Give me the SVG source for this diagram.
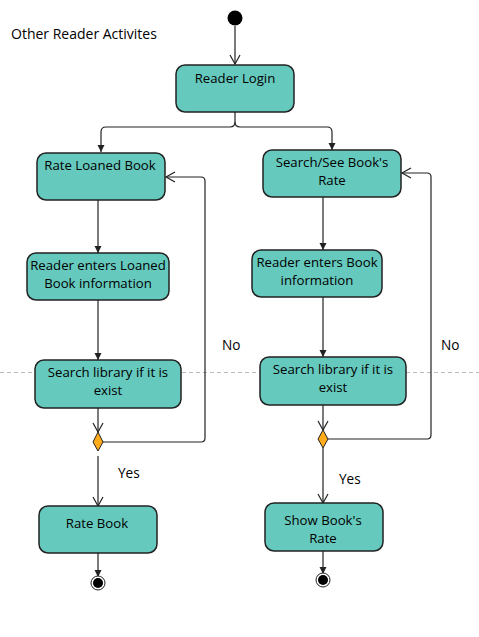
<svg xmlns="http://www.w3.org/2000/svg" width="479" height="637" viewBox="0 0 479 637">
<defs>
<style>
.act{fill:#66c9bd;stroke:#222;stroke-width:1.5}
.t{font-family:"Open Sans","Noto Sans",sans-serif;font-size:13.2px;fill:#000;text-anchor:middle}
.l{font-family:"Open Sans","Noto Sans",sans-serif;font-size:13.6px;fill:#000}
.c{fill:none;stroke:#222;stroke-width:1.2}
.dec{fill:#ffab1c;stroke:#222;stroke-width:1}
</style>
<marker id="open" markerWidth="12" markerHeight="12" refX="10" refY="6" orient="auto" markerUnits="userSpaceOnUse">
<path d="M1,1 L10,6 L1,11" fill="none" stroke="#222" stroke-width="1.2"/>
</marker>
<marker id="fill" markerWidth="8" markerHeight="8" refX="7" refY="4" orient="auto" markerUnits="userSpaceOnUse">
<path d="M0,0.5 L7,4 L0,7.5 Z" fill="#222"/>
</marker>
</defs>
<rect width="479" height="637" fill="#fff"/>
<line x1="0" y1="372.5" x2="479" y2="372.5" stroke="#bbb" stroke-dasharray="4,3" stroke-width="1"/>
<text class="l" x="11" y="39" style="font-size:14px">Other Reader Activites</text>

<g id="connectors">
<path class="c" d="M235,26 V64" marker-end="url(#open)"/>
<path class="c" d="M235,104 V122 Q235,127 230,127 H106 Q101,127 101,132 V152" marker-end="url(#fill)"/>
<path class="c" d="M235,122 Q235,127 240,127 H327 Q332,127 332,132 V150" marker-end="url(#fill)"/>
<path class="c" d="M98,200 V253" marker-end="url(#fill)"/>
<path class="c" d="M98,300 V360" marker-end="url(#fill)"/>
<path class="c" d="M323,197 V250" marker-end="url(#fill)"/>
<path class="c" d="M323,297 V357" marker-end="url(#fill)"/>
<path class="c" d="M98,408 V432" marker-end="url(#open)"/>
<path class="c" d="M323,405 V430" marker-end="url(#open)"/>
<path class="c" d="M98,456 V506" marker-end="url(#open)"/>
<path class="c" d="M323,448 V503" marker-end="url(#open)"/>
<path class="c" d="M103,442 H201 Q205,442 205,438 V181 Q205,177 201,177 H166" marker-end="url(#open)"/>
<path class="c" d="M328,439 H427 Q431,439 431,435 V177 Q431,173 427,173 H402" marker-end="url(#open)"/>
<path class="c" d="M98,549 V577" marker-end="url(#fill)"/>
<path class="c" d="M323,546 V574" marker-end="url(#fill)"/>
</g>

<g id="start"><circle cx="235" cy="18" r="7.5" fill="#000"/></g>

<g id="reader-login">
<rect class="act" x="176" y="65" width="118" height="47" rx="9"/>
<text class="t" x="235" y="83">Reader Login</text>
</g>
<g id="rate-loaned-book">
<rect class="act" x="37" y="153" width="128" height="47" rx="9"/>
<text class="t" x="100" y="170">Rate Loaned Book</text>
</g>
<g id="search-see-rate">
<rect class="act" x="263" y="150" width="138" height="47" rx="9"/>
<text class="t" x="332" y="167">Search/See Book's</text>
<text class="t" x="332" y="185">Rate</text>
</g>
<g id="enter-loaned-info">
<rect class="act" x="27" y="253" width="142" height="47" rx="9"/>
<text class="t" x="98" y="270">Reader enters Loaned</text>
<text class="t" x="98" y="288">Book information</text>
</g>
<g id="enter-book-info">
<rect class="act" x="252" y="250" width="130" height="47" rx="9"/>
<text class="t" x="317" y="267">Reader enters Book</text>
<text class="t" x="317" y="285">information</text>
</g>
<g id="search-left">
<rect class="act" x="35" y="360" width="146" height="48" rx="9"/>
<text class="t" x="108" y="377">Search library if it is</text>
<text class="t" x="108" y="395">exist</text>
</g>
<g id="search-right">
<rect class="act" x="260" y="357" width="146" height="48" rx="9"/>
<text class="t" x="333" y="374">Search library if it is</text>
<text class="t" x="333" y="392">exist</text>
</g>
<g id="decision-left"><path class="dec" d="M98,432 L103,442 L98,451 L93,442 Z"/></g>
<g id="decision-right"><path class="dec" d="M323,430 L328,439 L323,448 L318,439 Z"/></g>
<g id="rate-book">
<rect class="act" x="39" y="506" width="118" height="47" rx="9"/>
<text class="t" x="97" y="528">Rate Book</text>
</g>
<g id="show-rate">
<rect class="act" x="265" y="503" width="118" height="48" rx="9"/>
<text class="t" x="323" y="525">Show Book's</text>
<text class="t" x="323" y="543">Rate</text>
</g>
<g id="end-left"><circle cx="98" cy="583" r="7" fill="#fff" stroke="#222" stroke-width="1"/><circle cx="98" cy="583" r="5" fill="#000"/></g>
<g id="end-right"><circle cx="323" cy="580" r="7" fill="#fff" stroke="#222" stroke-width="1"/><circle cx="323" cy="580" r="5" fill="#000"/></g>

<g id="labels">
<text class="l" x="222" y="350">No</text>
<text class="l" x="441" y="350">No</text>
<text class="l" x="118" y="478">Yes</text>
<text class="l" x="339" y="484">Yes</text>
</g>
</svg>
